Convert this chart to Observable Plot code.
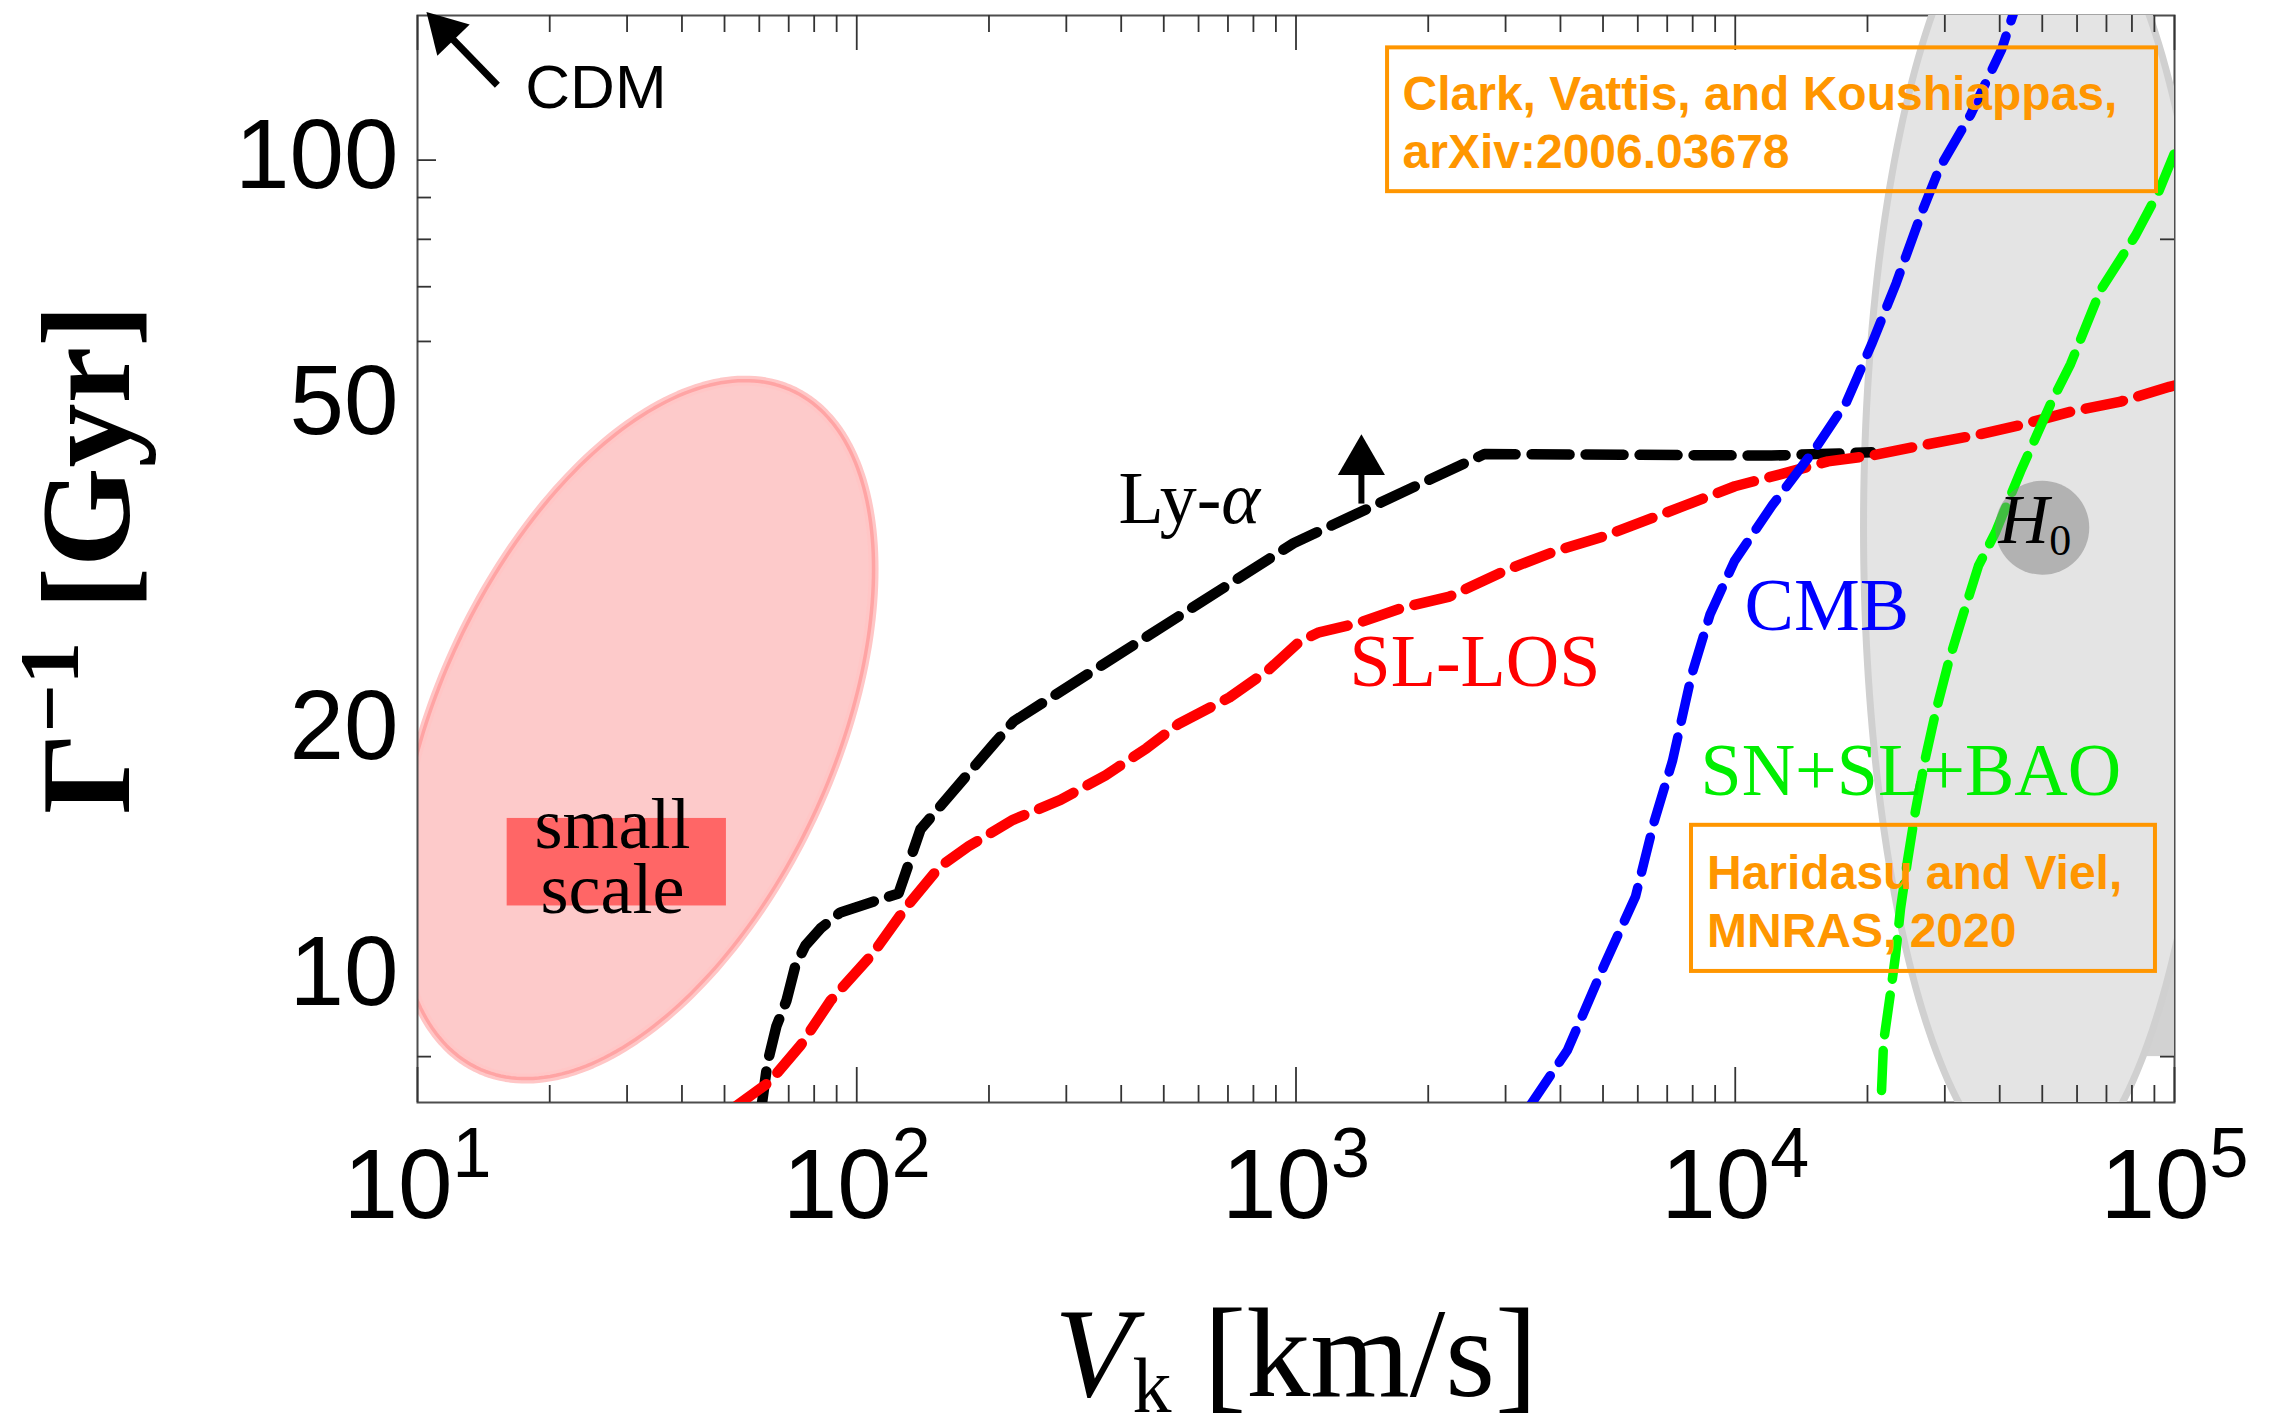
<!DOCTYPE html>
<html>
<head>
<meta charset="utf-8">
<script src="https://cdn.jsdelivr.net/npm/d3@7"></script>
<script src="https://cdn.jsdelivr.net/npm/@observablehq/plot@0.6"></script>
<style>
html, body { margin: 0; padding: 0; background: #ffffff; }
#chart svg { display: block; }
</style>
</head>
<body>
<div id="chart"></div>
<script>
// ---------------- data (V_k in km/s, Gamma^-1 in Gyr) ----------------
const lyaV = [60.6, 62.6, 65.6, 69.2, 72.5, 76.4, 82.7, 91.8, 124.5, 139.7, 204.8, 227.5, 987, 2686, 5537, 12090, 20430];
const lyaG = [6.9, 7.85, 8.71, 9.37, 10.34, 10.94, 11.48, 12.01, 12.67, 15.18, 19.29, 20.57, 33.98, 43.7, 43.6, 43.5, 43.9];

const slV = [52.97, 62.6, 66.0, 74.5, 87.2, 108.6, 128.4, 154.3, 179.7, 226.8, 291, 368.5, 456.7, 540, 705.8, 864, 1021, 1128.6, 1380, 1743, 2236, 2996, 3885, 5039, 7693, 9982, 12530, 16270, 20420, 27370, 35490, 44560, 57820, 74970, 97320, 100000];
const slG = [6.95, 7.42, 7.65, 8.26, 9.37, 10.68, 12.11, 13.65, 14.47, 15.59, 16.49, 17.67, 19.07, 20.42, 22.01, 23.76, 25.78, 26.44, 27.12, 28.32, 29.24, 31.47, 33.22, 34.67, 37.8, 39.9, 41.2, 42.8, 43.5, 44.9, 46.1, 47.4, 49.2, 50.6, 52.8, 53.0];

const cmbV = [3412, 4147, 5039, 5928, 6540, 7195, 7951, 8766, 9961, 12135, 15230, 17920, 20430, 23250, 26500, 29170, 34320, 40380, 43130];
const cmbG = [6.97, 8.14, 10.37, 12.56, 15.52, 18.4, 23.42, 27.82, 32.32, 37.8, 44.4, 50.6, 59.5, 70.7, 85.9, 97.8, 113.6, 136.5, 152];

const snV = [21530, 21760, 22570, 23170, 23790, 24680, 25730, 27120, 28580, 30590, 33100, 35800, 39130, 44610, 52480, 57990, 67840, 81520, 91950, 100000];
const snG = [7.27, 8.33, 9.58, 10.64, 12.15, 13.91, 16.01, 18.59, 21.1, 24.3, 27.9, 31.9, 35.05, 41.6, 50.6, 56.3, 69.3, 80.9, 91.4, 102];

// regions: centre (V, Gamma^-1), half-extent in decades (V, Gamma), phase (deg)
const smallScaleRegion = [31.35, 20.1, 0.542, 0.427, 62.6];
const h0Region = [49550, 35.55, 0.403, 0.794, 90];
const h0Point = [50000, 35.5];
const darkStripV = [75300, 100000];
const darkStripG = [8, 17.3];

// labels
const curveLabels = ["SL-LOS", "CMB", "SN+SL+BAO"];
const curveLabelV = [1324, 10500, 8335];
const curveLabelG = [22.7, 26.6, 16.7];
const curveLabelColor = ["#ff0000", "#0000ff", "#00ee00"];
const lyaLabel = ["Ly-α"];
const lyaLabelV = [394.5];
const lyaLabelG = [35.95];

const smallScaleText = ["small\nscale"];
const smallScaleTextV = [27.8];
const smallScaleTextG = [12.0];
const smallScaleBoxV = [16, 50.5];
const smallScaleBoxG = [12.23, 15.65];

const cdmText = ["CDM"];
const cdmTextV = [17.6];
const cdmTextG = [115.8];
const cdmArrowV = [15.2, 11.52];
const cdmArrowG = [123.5, 144];
const lyaArrowV = [1409, 1409];
const lyaArrowG = [38.0, 42.8];

const refText = ["Clark, Vattis, and Koushiappas,\narXiv:2006.03678", "Haridasu and Viel,\nMNRAS, 2020"];
const refTextV = [1748, 8623];
const refTextG = [97.8, 10.9];
const refBoxV1 = [1616, 7951];
const refBoxV2 = [91000, 90500];
const refBoxG1 = [91.5, 10.17];
const refBoxG2 = [137.2, 15.35];

const h0Label = ["H0"];
const h0LabelV = [39770];
const h0LabelG = [33.98];

const xTickValues = [10, 100, 1000, 10000, 100000];
const xTickLabels = ["10^1", "10^2", "10^3", "10^4", "10^5"];
const yTickValues = [10, 20, 50, 100];
const yTickLabels = ["10", "20", "50", "100"];
const yMinorLeft = [8, 60, 70, 80, 90];
const yMinorRight = [8, 80];
const xTitle = ["V|k| [km/s]"];
const yTitle = ["Γ|−1| [Gyr]"];

// ---------------- layout ----------------
const W = 2273, H = 1415;
const mL = 417, mR = 99, mT = 15, mB = 313;
const pw = W - mL - mR, ph = H - mT - mB;
const serif = "'Liberation Serif', 'Times New Roman', Times, serif";
const sans = "'Liberation Sans', Arial, Helvetica, sans-serif";

const zip = (a, b) => a.map((v, i) => ({v, g: b[i]}));
const ellipse = ([cx, cy, rx, ry, ph0], n = 240) =>
  d3.range(n + 1).map(i => {
    const t = 2 * Math.PI * i / n;
    return {v: cx * 10 ** (rx * Math.cos(t)), g: cy * 10 ** (ry * Math.cos(t - ph0 * Math.PI / 180))};
  });

const xMinor = [];
for (const d of [10, 100, 1000, 10000]) for (let k = 2; k <= 9; k++) xMinor.push(d * k);

const pinkPts = ellipse(smallScaleRegion);
const grayPts = ellipse(h0Region);
const dash = "38,16";

const svg = Plot.plot({
  width: W, height: H,
  marginLeft: mL, marginRight: mR, marginTop: mT, marginBottom: mB,
  style: {background: "#ffffff", fontFamily: sans, overflow: "visible"},
  x: {type: "log", domain: [10, 100000], label: null},
  y: {type: "log", domain: [7.03, 150.3], label: null},
  marks: [
    // small-scale region
    Plot.line(pinkPts, {x: "v", y: "g", fill: "#fdcaca", stroke: "#ffc6c6", strokeWidth: 10, clip: true}),
    Plot.line(pinkPts, {x: "v", y: "g", stroke: "#ffa4a4", strokeWidth: 3.5, clip: true}),
    Plot.rect([0], {x1: () => smallScaleBoxV[0], x2: () => smallScaleBoxV[1], y1: () => smallScaleBoxG[0], y2: () => smallScaleBoxG[1], fill: "#ff6666"}),
    Plot.text(smallScaleText, {x: (d, i) => smallScaleTextV[i], y: (d, i) => smallScaleTextG[i], text: d => d, fontFamily: serif, fontSize: 72, lineHeight: 0.9, lineAnchor: "bottom", textAnchor: "middle", fill: "black"}),
    Plot.frame({stroke: "#4d4d4d", strokeWidth: 2}),
    // H0 region
    Plot.rect([0], {x1: () => darkStripV[0], x2: () => darkStripV[1], y1: () => darkStripG[0], y2: () => darkStripG[1], fill: "#d2d2d2"}),
    Plot.line(grayPts, {x: "v", y: "g", fill: "#e4e4e4", stroke: "#d0d0d0", strokeWidth: 7, clip: true}),
    // ticks
    Plot.tickX(xTickValues, {x: d => d, insetTop: ph - 35, stroke: "#333", strokeWidth: 1.8}),
    Plot.tickX(xMinor, {x: d => d, insetTop: ph - 17, stroke: "#333", strokeWidth: 1.8}),
    Plot.tickX(xTickValues, {x: d => d, insetBottom: ph - 35, stroke: "#333", strokeWidth: 1.8}),
    Plot.tickX(xMinor, {x: d => d, insetBottom: ph - 17, stroke: "#333", strokeWidth: 1.8}),
    Plot.tickY([100], {y: d => d, insetRight: pw - 19, stroke: "#333", strokeWidth: 1.8}),
    Plot.tickY(yMinorLeft, {y: d => d, insetRight: pw - 14, stroke: "#333", strokeWidth: 1.8}),
    Plot.tickY(yMinorRight, {y: d => d, insetLeft: pw - 14, stroke: "#333", strokeWidth: 1.8}),
    // curves
    Plot.line(zip(lyaV, lyaG), {x: "v", y: "g", stroke: "#000000", strokeWidth: 10.5, strokeDasharray: dash, clip: true}),
    Plot.line(zip(slV, slG), {x: "v", y: "g", stroke: "#ff0000", strokeWidth: 10.5, strokeDasharray: dash, clip: true}),
    Plot.line(zip(cmbV, cmbG), {x: "v", y: "g", stroke: "#0000ff", strokeWidth: 9.5, strokeDasharray: "36,16", clip: true}),
    Plot.line(zip(snV, snG), {x: "v", y: "g", stroke: "#00ff00", strokeWidth: 9.5, strokeDasharray: "40,16", clip: true}),
    // H0 point
    Plot.dot([0], {x: () => h0Point[0], y: () => h0Point[1], r: 47, fill: "#808080", fillOpacity: 0.5, stroke: "none"}),
    Plot.text(h0Label, {x: (d, i) => h0LabelV[i], y: (d, i) => h0LabelG[i], text: d => d, fontFamily: serif, fontSize: 70, lineAnchor: "bottom", textAnchor: "start", fill: "black"}),
    // curve labels
    Plot.text(curveLabels, {x: (d, i) => curveLabelV[i], y: (d, i) => curveLabelG[i], text: d => d, fill: (d, i) => curveLabelColor[i], fontFamily: serif, fontSize: 74, lineAnchor: "bottom", textAnchor: "start"}),
    Plot.text(lyaLabel, {x: (d, i) => lyaLabelV[i], y: (d, i) => lyaLabelG[i], text: d => d, fill: "black", fontFamily: serif, fontSize: 74, lineAnchor: "bottom", textAnchor: "start"}),
    // reference boxes
    Plot.rect(refText, {x1: (d, i) => refBoxV1[i], x2: (d, i) => refBoxV2[i], y1: (d, i) => refBoxG1[i], y2: (d, i) => refBoxG2[i], fill: "none", stroke: "#ff9600", strokeWidth: 4}),
    Plot.text(refText, {x: (d, i) => refTextV[i], y: (d, i) => refTextG[i], text: d => d, fill: "#ff9600", fontFamily: sans, fontWeight: "bold", fontSize: 48, lineHeight: 1.2, lineAnchor: "bottom", textAnchor: "start"}),
    // CDM arrow
    Plot.link([0], {x1: () => cdmArrowV[0], y1: () => cdmArrowG[0], x2: () => cdmArrowV[1], y2: () => cdmArrowG[1], stroke: "black", strokeWidth: 7}),
    Plot.dot([0], {x: () => cdmArrowV[1], y: () => cdmArrowG[1], symbol: "triangle", r: 16.7, rotate: -44, fill: "black", stroke: "none"}),
    Plot.text(cdmText, {x: (d, i) => cdmTextV[i], y: (d, i) => cdmTextG[i], text: d => d, fill: "black", fontFamily: sans, fontSize: 62, lineAnchor: "bottom", textAnchor: "start"}),
    // Ly-alpha lower-bound arrow
    Plot.link([0], {x1: () => lyaArrowV[0], y1: () => lyaArrowG[0], x2: () => lyaArrowV[1], y2: () => lyaArrowG[1], stroke: "black", strokeWidth: 6}),
    Plot.dot([0], {x: () => lyaArrowV[1], y: () => lyaArrowG[1], symbol: "triangle", r: 17.5, fill: "black", stroke: "none"}),
    // axes
    Plot.axisX(xTickValues, {tickSize: 0, tickPadding: 46, tickFormat: d => xTickLabels[xTickValues.indexOf(d)], fontSize: 98, fontFamily: sans, fill: "black", label: null}),
    Plot.axisY(yTickValues, {tickSize: 0, tickPadding: 19, dy: -4, tickFormat: d => yTickLabels[yTickValues.indexOf(d)], fontSize: 98, fontFamily: sans, fill: "black", label: null}),
    Plot.text(xTitle, {frameAnchor: "bottom", dy: 293, text: d => d, lineAnchor: "bottom", textAnchor: "middle", fontFamily: serif, fontSize: 128, fill: "black"}),
    Plot.text(yTitle, {frameAnchor: "left", dx: -289, rotate: -90, text: d => d, lineAnchor: "bottom", textAnchor: "middle", fontFamily: serif, fontWeight: "bold", fontSize: 128, fill: "black"})
  ]
});

// ---------- rich text (superscripts / subscripts / italics) ----------
function rich(el, parts) {
  const t = d3.select(el);
  t.text(null);
  for (const p of parts) {
    const s = t.append("tspan").text(p.text);
    if (p.italic) s.attr("font-style", "italic");
    if (p.size) s.attr("font-size", p.size);
    if (p.dy) s.attr("dy", p.dy);
  }
}
d3.select(svg).selectAll("text").each(function () {
  const s = this.textContent;
  if (xTickLabels.includes(s)) {
    const [base, exp] = s.split("^");
    rich(this, [{text: base}, {text: exp, size: 70, dy: -41}]);
  } else if (s === xTitle[0]) {
    const [a, b, c] = s.split("|");
    rich(this, [{text: a, italic: true}, {text: b, size: 78, dy: 16}, {text: c, dy: -16}]);
  } else if (s === yTitle[0]) {
    const [a, b, c] = s.split("|");
    rich(this, [{text: a}, {text: b, size: 85, dy: -51}, {text: c, dy: 51}]);
  } else if (s === lyaLabel[0]) {
    rich(this, [{text: s.slice(0, -1)}, {text: s.slice(-1), italic: true}]);
  } else if (s === h0Label[0]) {
    rich(this, [{text: s.slice(0, 1), italic: true}, {text: s.slice(1), size: 44, dy: 12}]);
  }
});

document.getElementById("chart").appendChild(svg);
</script>
</body>
</html>
